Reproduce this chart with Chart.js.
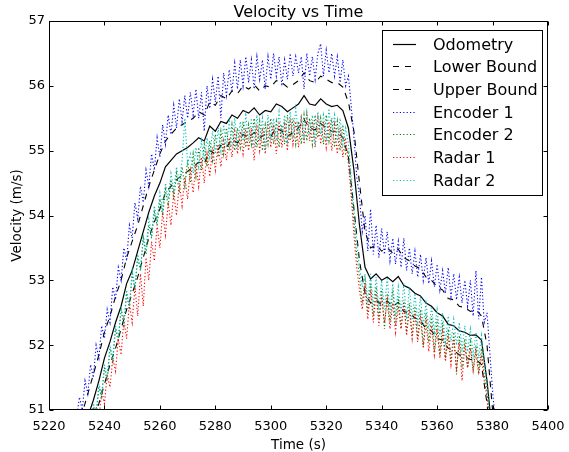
<!DOCTYPE html>
<html>
<head>
<meta charset="utf-8">
<title>Velocity vs Time</title>
<script src="https://cdn.jsdelivr.net/npm/chart.js@4.4.1/dist/chart.umd.min.js"></script>
<style>
  html, body { margin: 0; padding: 0; background: #fff; }
  canvas { display: block; }
</style>
</head>
<body>
<canvas id="chartVel" width="569" height="452"></canvas>
<script>
// time axes (s)
const timeCoarse = [
  5230,5232,5234,5236,5238,5240,5242,5244,5246,5248,
  5250,5252,5254,5256,5258,5260,5262,5264,5266,5268,
  5270,5272,5274,5276,5278,5280,5282,5284,5286,5288,
  5290,5292,5294,5296,5298,5300,5302,5304,5306,5308,
  5310,5312,5314,5316,5318,5320,5322,5324,5326,5328,
  5330,5332,5334,5336,5338,5340,5342,5344,5346,5348,
  5350,5352,5354,5356,5358,5360,5362,5364,5366,5368,
  5370,5372,5374,5376,5378,5380
];
const timeFine = [
  5230,5231,5232,5233,5234,5235,5236,5237,5238,5239,
  5240,5241,5242,5243,5244,5245,5246,5247,5248,5249,
  5250,5251,5252,5253,5254,5255,5256,5257,5258,5259,
  5260,5261,5262,5263,5264,5265,5266,5267,5268,5269,
  5270,5271,5272,5273,5274,5275,5276,5277,5278,5279,
  5280,5281,5282,5283,5284,5285,5286,5287,5288,5289,
  5290,5291,5292,5293,5294,5295,5296,5297,5298,5299,
  5300,5301,5302,5303,5304,5305,5306,5307,5308,5309,
  5310,5311,5312,5313,5314,5315,5316,5317,5318,5319,
  5320,5321,5322,5323,5324,5325,5326,5327,5328,5329,
  5330,5331,5332,5333,5334,5335,5336,5337,5338,5339,
  5340,5341,5342,5343,5344,5345,5346,5347,5348,5349,
  5350,5351,5352,5353,5354,5355,5356,5357,5358,5359,
  5360,5361,5362,5363,5364,5365,5366,5367,5368,5369,
  5370,5371,5372,5373,5374,5375,5376,5377,5378,5379,
  5380,5381,5382
];

// velocities (m/s) on timeCoarse
const odometry = [
  50.55,50.75,50.9,51.15,51.45,51.8,52.05,52.35,52.6,52.95,
  53.15,53.45,53.75,54.05,54.3,54.5,54.75,54.85,54.95,55.0,
  55.05,55.12,55.2,55.15,55.38,55.3,55.45,55.42,55.55,55.5,
  55.62,55.58,55.66,55.55,55.62,55.6,55.72,55.68,55.6,55.66,
  55.72,55.85,55.72,55.7,55.8,55.72,55.68,55.7,55.62,55.35,
  54.7,53.85,53.2,53.02,53.1,53.0,53.05,52.98,53.06,52.92,
  52.88,52.8,52.76,52.65,52.6,52.5,52.45,52.32,52.3,52.22,
  52.2,52.15,52.16,52.08,51.45,50.6
];
const lowerBound = [
  50.2,50.4,50.6,50.85,51.1,51.4,51.7,51.95,52.25,52.55,
  52.8,53.05,53.35,53.65,53.9,54.1,54.35,54.45,54.55,54.62,
  54.68,54.75,54.82,54.8,55.0,54.95,55.08,55.05,55.18,55.12,
  55.25,55.2,55.28,55.2,55.25,55.22,55.35,55.3,55.22,55.28,
  55.35,55.48,55.35,55.32,55.42,55.35,55.3,55.3,55.2,54.9,
  54.1,53.3,52.8,52.65,52.7,52.62,52.68,52.6,52.66,52.52,
  52.5,52.42,52.38,52.25,52.22,52.1,52.08,51.95,51.92,51.85,
  51.82,51.78,51.78,51.7,51.1,50.3
];
const upperBound = [
  50.7,50.95,51.25,51.55,51.85,52.2,52.45,52.75,53.0,53.35,
  53.6,53.85,54.15,54.45,54.7,54.95,55.15,55.25,55.35,55.4,
  55.45,55.5,55.6,55.55,55.75,55.7,55.85,55.8,55.92,55.88,
  56.0,55.95,56.02,55.92,56.0,55.98,56.08,56.05,55.98,56.02,
  56.08,56.2,56.08,56.05,56.15,56.1,56.05,56.05,55.98,55.75,
  55.3,54.5,53.75,53.5,53.55,53.45,53.5,53.42,53.48,53.35,
  53.3,53.22,53.18,53.05,53.0,52.9,52.85,52.72,52.7,52.6,
  52.58,52.52,52.55,52.45,52.0,51.0
];

// velocities (m/s) on timeFine
const encoder1 = [
  50.9,51.2,51.0,51.45,51.25,51.7,51.5,52.0,51.8,52.3,
  52.1,52.55,52.35,52.9,52.7,53.2,53.0,53.5,53.3,53.85,
  53.65,54.2,53.95,54.45,54.2,54.7,54.45,54.95,54.7,55.2,
  54.9,55.4,55.1,55.55,55.25,55.7,55.35,55.8,55.45,55.85,
  55.5,55.9,55.55,55.95,55.5,55.9,55.3,56.0,55.65,56.1,
  55.75,56.15,55.5,56.2,55.85,56.25,55.9,56.35,55.95,56.4,
  56.0,56.45,56.05,56.4,55.95,56.45,56.1,56.4,55.95,56.45,
  56.1,56.5,56.15,56.45,56.0,56.4,56.1,56.5,56.15,56.45,
  56.2,56.45,55.95,56.5,56.15,56.45,56.1,56.5,56.65,56.15,
  56.55,56.2,56.5,56.15,56.45,56.05,56.4,56.0,56.15,55.7,
  55.2,54.6,54.3,53.75,54.0,53.45,54.1,53.4,53.85,53.35,
  53.8,53.4,53.75,53.3,53.65,53.25,53.6,53.2,53.65,53.15,
  53.5,53.1,53.45,53.05,53.4,53.0,53.35,52.95,53.3,52.9,
  53.25,52.85,53.15,52.8,53.2,52.75,53.1,52.7,53.05,52.65,
  53.0,52.6,53.0,52.45,53.15,52.4,53.05,52.35,52.5,51.9,
  51.3,50.8,null
];
const encoder2 = [
  null,null,null,null,null,50.75,51.05,50.9,51.35,51.2,
  51.65,51.45,51.95,51.75,52.25,52.05,52.55,52.3,52.8,52.55,
  53.1,52.85,53.35,53.15,53.65,53.4,53.85,53.65,54.05,53.85,
  54.25,54.0,54.4,54.15,54.55,54.25,54.65,54.35,54.75,54.45,
  54.85,54.5,54.95,54.6,55.05,54.7,55.1,54.75,55.15,54.85,
  55.25,54.9,55.3,54.95,55.35,55.0,55.4,55.0,55.35,55.05,
  55.45,55.05,55.4,55.1,55.5,55.05,55.45,55.0,55.4,55.1,
  55.5,55.1,55.45,55.05,55.4,55.1,55.55,55.15,55.5,55.1,
  55.45,55.1,55.55,55.15,55.5,55.1,55.55,55.2,55.5,55.1,
  55.55,55.15,55.5,55.05,55.45,55.0,55.4,54.95,55.0,54.4,
  53.9,53.4,53.05,52.65,53.0,52.5,52.95,52.45,52.9,52.4,
  52.85,52.25,52.8,52.35,52.85,52.3,52.75,52.25,52.7,52.2,
  52.65,52.15,52.6,52.1,52.55,52.0,52.5,52.05,52.45,51.9,
  52.4,51.85,52.35,51.8,52.25,51.75,52.2,51.55,52.15,51.7,
  52.1,51.65,52.05,51.6,52.0,51.6,51.95,51.55,51.3,50.8,
  null,null,null
];
const radar1 = [
  null,null,null,null,null,null,50.8,51.05,50.85,51.3,
  51.1,51.55,51.35,51.8,51.6,52.1,51.85,52.4,52.1,52.65,
  52.35,52.9,52.45,53.1,52.6,53.35,53.0,53.6,53.3,53.85,
  53.5,54.05,53.7,54.2,53.85,54.35,54.0,54.5,54.15,54.6,
  54.25,54.7,54.35,54.8,54.45,54.9,54.5,54.95,54.6,55.05,
  54.7,55.1,54.75,55.15,54.85,55.2,54.9,55.3,54.95,55.3,
  54.95,55.35,55.0,55.35,54.85,55.4,55.0,55.35,54.95,55.45,
  55.05,55.4,54.95,55.45,55.05,55.4,55.0,55.5,55.1,55.45,
  55.05,55.5,55.1,55.55,55.15,55.45,55.05,55.5,55.1,55.45,
  55.05,55.45,55.0,55.4,54.95,55.35,54.9,55.2,54.8,54.3,
  53.7,53.2,52.85,52.55,52.9,52.4,52.85,52.35,52.8,52.3,
  52.75,52.35,52.7,52.25,52.65,52.2,52.6,52.25,52.65,52.15,
  52.55,52.1,52.5,52.05,52.45,51.95,52.35,51.9,52.3,51.85,
  52.25,51.8,52.2,51.75,52.15,51.7,52.1,51.65,52.05,51.45,
  52.0,51.65,51.95,51.6,51.9,51.55,51.85,51.45,51.2,50.8,
  null,null,null
];
const radar2 = [
  null,null,null,null,null,50.8,51.1,50.95,51.4,51.25,
  51.7,51.5,52.0,51.8,52.3,52.1,52.6,52.35,52.85,52.6,
  53.15,52.9,53.4,53.15,53.7,53.45,53.95,53.7,54.15,53.9,
  54.35,54.1,54.5,54.25,54.65,54.4,54.75,54.5,54.85,55.5,
  54.8,54.95,54.65,55.05,54.75,55.15,54.85,55.2,54.9,55.3,
  54.95,55.35,55.0,55.4,55.05,55.45,55.05,55.5,55.1,55.45,
  55.15,55.55,55.15,55.5,55.05,55.55,55.15,55.5,55.0,55.55,
  55.2,55.5,55.15,55.6,55.2,55.55,55.15,55.6,55.2,55.65,
  55.25,55.55,55.2,55.6,55.25,55.55,55.15,55.6,55.25,55.55,
  55.2,55.65,55.25,55.55,55.15,55.5,55.1,55.35,55.1,54.6,
  54.1,53.6,53.2,52.9,53.1,52.65,53.1,52.6,53.05,52.55,
  53.0,52.55,53.05,52.5,52.95,52.45,52.9,52.5,52.95,52.4,
  52.9,52.4,52.8,52.35,52.75,52.3,52.65,52.25,52.6,52.2,
  52.55,52.15,52.5,52.05,52.45,52.05,52.4,52.0,52.35,51.95,
  52.3,51.9,52.25,51.85,52.2,51.8,52.15,51.75,51.4,50.9,
  null,null,null
];

const xTicks = [5220,5240,5260,5280,5300,5320,5340,5360,5380,5400];
const yTicks = [51,52,53,54,55,56,57];

const FONT = "'DejaVu Sans', 'Liberation Sans', sans-serif";
Chart.defaults.font.family = FONT;
Chart.defaults.color = '#000';

function pts(ts, vs){ return ts.map((t,i) => ({x: t, y: vs[i]})); }

// matplotlib-like frame, inward ticks on all four sides
const frameTicks = {
  id: 'frameTicks',
  afterDatasetsDraw(chart){
    const {ctx, chartArea: a, scales: {x, y}} = chart;
    const L = Math.round(a.left) + 0.5, R = Math.round(a.right) - 0.5;
    const T = Math.round(a.top) + 0.5, B = Math.round(a.bottom) - 0.5;
    ctx.save();
    ctx.strokeStyle = '#000'; ctx.lineWidth = 1;
    ctx.beginPath();
    xTicks.forEach(v => {
      const px = Math.round(x.getPixelForValue(v)) + 0.5;
      ctx.moveTo(px, B); ctx.lineTo(px, B - 4);
      ctx.moveTo(px, T); ctx.lineTo(px, T + 4);
    });
    yTicks.forEach(v => {
      const py = Math.round(y.getPixelForValue(v)) + 0.5;
      ctx.moveTo(L, py); ctx.lineTo(L + 4, py);
      ctx.moveTo(R, py); ctx.lineTo(R - 4, py);
    });
    ctx.stroke();
    ctx.strokeRect(L, T, R - L, B - T);
    ctx.restore();
  }
};

// title + boxed legend inside the axes (upper right)
const boxLegend = {
  id: 'boxLegend',
  afterDraw(chart){
    const {ctx, chartArea: a} = chart;
    ctx.save();
    ctx.fillStyle = '#000';
    ctx.font = '16px ' + FONT;
    ctx.textAlign = 'center';
    ctx.textBaseline = 'alphabetic';
    ctx.fillText('Velocity vs Time', (a.left + a.right) / 2, 17);

    const w = 160, h = 165;
    const bx = Math.round(a.right) - 6 - w, by = Math.round(a.top) + 9;
    ctx.fillStyle = '#fff';
    ctx.fillRect(bx, by, w, h);
    ctx.strokeStyle = '#000'; ctx.lineWidth = 1;
    ctx.strokeRect(bx + 0.5, by + 0.5, w, h);

    ctx.textAlign = 'left';
    ctx.textBaseline = 'middle';
    chart.data.datasets.forEach((ds, i) => {
      const ry = Math.round(by + 13.5 + i * 22.7) + 0.5;
      ctx.save();
      ctx.beginPath();
      ctx.strokeStyle = ds.borderColor;
      ctx.lineWidth = ds.borderWidth;
      ctx.setLineDash(ds.borderDash || []);
      ctx.moveTo(bx + 11, ry); ctx.lineTo(bx + 34, ry);
      ctx.stroke();
      ctx.restore();
      ctx.fillStyle = '#000';
      ctx.fillText(ds.label, bx + 51, ry + 1);
    });
    ctx.restore();
  }
};

const DOT = [1.2, 2.2];
const DASH = [6, 6];

new Chart(document.getElementById('chartVel'), {
  type: 'line',
  data: {
    datasets: [
      { label: 'Odometry',    data: pts(timeCoarse, odometry),   borderColor: '#000000', borderWidth: 1.2, order: 7 },
      { label: 'Lower Bound', data: pts(timeCoarse, lowerBound), borderColor: '#000000', borderWidth: 1.1, borderDash: DASH, order: 6 },
      { label: 'Upper Bound', data: pts(timeCoarse, upperBound), borderColor: '#000000', borderWidth: 1.1, borderDash: DASH, order: 5 },
      { label: 'Encoder 1',   data: pts(timeFine, encoder1),     borderColor: '#0000ff', borderWidth: 1.1, borderDash: DOT, order: 4 },
      { label: 'Encoder 2',   data: pts(timeFine, encoder2),     borderColor: '#008000', borderWidth: 1.1, borderDash: DOT, order: 3 },
      { label: 'Radar 1',     data: pts(timeFine, radar1),       borderColor: '#ff0000', borderWidth: 1.1, borderDash: DOT, order: 2 },
      { label: 'Radar 2',     data: pts(timeFine, radar2),       borderColor: '#00bfbf', borderWidth: 1.1, borderDash: DOT, order: 1 }
    ]
  },
  options: {
    responsive: false,
    animation: false,
    events: [],
    layout: { padding: { top: 21, right: 21, left: 0, bottom: 0 } },
    elements: { point: { radius: 0 }, line: { tension: 0, fill: false } },
    plugins: { legend: { display: false }, tooltip: { enabled: false }, title: { display: false } },
    scales: {
      x: {
        type: 'linear', min: 5220, max: 5400,
        afterBuildTicks: s => { s.ticks = xTicks.map(v => ({value: v})); },
        afterFit: s => { s.height = 42; s.paddingLeft = 0; s.paddingRight = 0; },
        ticks: { callback: v => String(v), font: { size: 13 }, color: '#000', padding: 9, maxRotation: 0, autoSkip: false },
        grid: { display: false, drawTicks: false },
        border: { display: false },
        title: { display: true, text: 'Time (s)', font: { size: 13.5 }, color: '#000', padding: { top: 0, bottom: -2 } }
      },
      y: {
        type: 'linear', min: 51, max: 57,
        afterBuildTicks: s => { s.ticks = yTicks.map(v => ({value: v})); },
        afterFit: s => { s.width = 49; s.paddingTop = 0; s.paddingBottom = 0; },
        ticks: { callback: v => String(v), font: { size: 13 }, color: '#000', padding: 4 },
        grid: { display: false, drawTicks: false },
        border: { display: false },
        title: { display: true, text: 'Velocity (m/s)', font: { size: 13.5 }, color: '#000', padding: { top: 9, bottom: 0 } }
      }
    }
  },
  plugins: [frameTicks, boxLegend]
});
</script>
</body>
</html>
